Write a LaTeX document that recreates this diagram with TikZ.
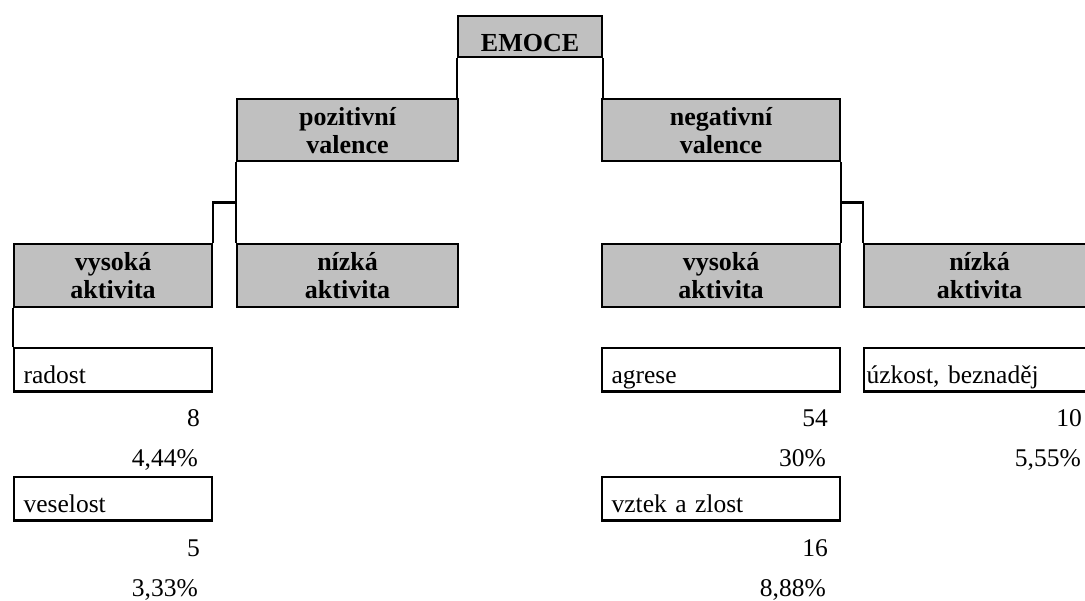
\documentclass[tikz,border=0pt]{standalone}
\usepackage{fontspec}
\setmainfont{Liberation Serif}
\usetikzlibrary{calc}
\definecolor{boxgray}{RGB}{192,192,192}
\begin{document}
\begin{tikzpicture}[x=1pt,y=-1pt,
  every node/.style={font=\fontsize{25.5}{28}\selectfont},
  hdr/.style={draw, fill=boxgray, line width=2.2pt, anchor=north west,
    inner sep=0pt, align=center, font=\fontsize{26}{28}\selectfont\bfseries},
  itembox/.style={draw, line width=2.2pt, anchor=north west, inner ysep=0pt,
    inner xsep=9.5pt, minimum height=43.5pt, align=left,
    text height=27.4pt, text depth=0pt},
  num/.style={anchor=base east, inner sep=0pt},
  link/.style={line width=2.2pt}
]
\useasboundingbox (0,0) rectangle (1085,601);
\clip (0,0) rectangle (1085,601);

% top level
\node[hdr, minimum width=144pt, minimum height=41pt, text height=29pt, text depth=0pt]
  (emoce) at (457,15) {EMOCE};

% valence
\node[hdr, minimum width=221pt, minimum height=62pt] (posval) at (236,98) {pozitivní\\valence};
\node[hdr, minimum width=238pt, minimum height=62pt] (negval) at (601,98) {negativní\\valence};

% activity
\node[hdr, minimum width=198pt, minimum height=63pt] (lvys) at (13,243) {vysoká\\aktivita};
\node[hdr, minimum width=221pt, minimum height=63pt] (lniz) at (236,243) {nízká\\aktivita};
\node[hdr, minimum width=238pt, minimum height=63pt] (rvys) at (601,243) {vysoká\\aktivita};
\node[hdr, minimum width=231pt, minimum height=63pt] (rniz) at (863,243) {nízká\\aktivita};

% emotions
\node[itembox, text width=179pt] (radost) at (13,347) {radost};
\node[itembox, text width=179pt] (veselost) at (13,476) {veselost};
\node[itembox, text width=219pt] (agrese) at (601,347) {agrese};
\node[itembox, text width=219pt] (vztek) at (601,476) {vztek a zlost};
\node[itembox, inner xsep=2.5pt, text width=226pt] (uzkost) at (863,347) {úzkost, beznaděj};

% counts and shares
\node[num] (n1) at (200,427) {8};
\node[num] (p1) at (198,467) {4,44\%};
\node[num] (n2) at (200,556) {5};
\node[num] (p2) at (198,596) {3,33\%};
\node[num] (n3) at (828,427) {54};
\node[num] (p3) at (826,467) {30\%};
\node[num] (n4) at (828,556) {16};
\node[num] (p4) at (826,596) {8,88\%};
\node[num] (n5) at (1082,427) {10};
\node[num] (p5) at (1081,467) {5,55\%};

% connectors
\draw[link] (emoce.south west) -- (emoce.south west |- posval.north);
\draw[link] (emoce.south east) -- (emoce.south east |- negval.north);

\draw[link] (posval.south west) -- (posval.south west |- lniz.north);
\coordinate (lfork) at ($(posval.south west)!0.5!(posval.south west |- lniz.north)$);
\draw[link] (lfork) -| (lvys.north east);
\draw[link] (lvys.south west) -- (lvys.south west |- radost.north);

\draw[link] (negval.south east) -- (negval.south east |- rvys.north);
\coordinate (rfork) at ($(negval.south east)!0.5!(negval.south east |- rvys.north)$);
\draw[link] (rfork) -| (rniz.north west);
\end{tikzpicture}
\end{document}
